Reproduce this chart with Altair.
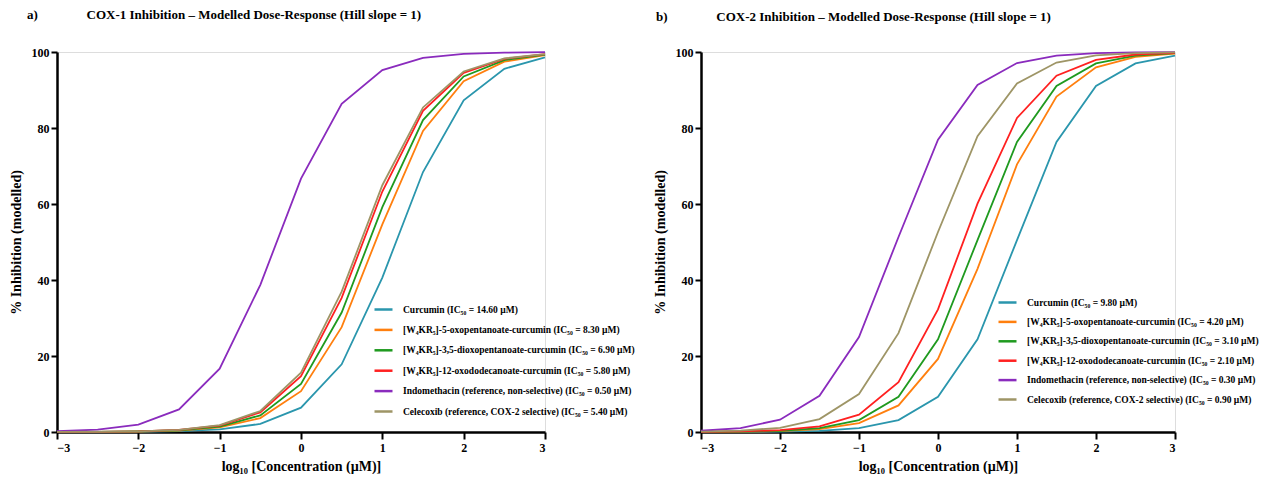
import altair as alt
import pandas as pd

log_conc = [-3, -2.5, -2, -1.5, -1, -0.5, 0, 0.5, 1, 1.5, 2, 2.5, 3]

colors = ["#2a96ad", "#ff7f0e", "#1f9a1f", "#ff2020", "#8a2bbd", "#9e9566"]

cox1_labels = [
    "Curcumin (IC\u2085\u2080 = 14.60 \u00b5M)",
    "[W\u2084KR\u2085]-5-oxopentanoate-curcumin (IC\u2085\u2080 = 8.30 \u00b5M)",
    "[W\u2084KR\u2085]-3,5-dioxopentanoate-curcumin (IC\u2085\u2080 = 6.90 \u00b5M)",
    "[W\u2084KR\u2085]-12-oxododecanoate-curcumin (IC\u2085\u2080 = 5.80 \u00b5M)",
    "Indomethacin (reference, non-selective) (IC\u2085\u2080 = 0.50 \u00b5M)",
    "Celecoxib (reference, COX-2 selective) (IC\u2085\u2080 = 5.40 \u00b5M)",
]
cox2_labels = [
    "Curcumin (IC\u2085\u2080 = 9.80 \u00b5M)",
    "[W\u2084KR\u2085]-5-oxopentanoate-curcumin (IC\u2085\u2080 = 4.20 \u00b5M)",
    "[W\u2084KR\u2085]-3,5-dioxopentanoate-curcumin (IC\u2085\u2080 = 3.10 \u00b5M)",
    "[W\u2084KR\u2085]-12-oxododecanoate-curcumin (IC\u2085\u2080 = 2.10 \u00b5M)",
    "Indomethacin (reference, non-selective) (IC\u2085\u2080 = 0.30 \u00b5M)",
    "Celecoxib (reference, COX-2 selective) (IC\u2085\u2080 = 0.90 \u00b5M)",
]

# COX-1 % inhibition values
cox1_curcumin = [0.007, 0.02, 0.07, 0.22, 0.68, 2.12, 6.41, 17.80, 40.65, 68.41, 87.26, 95.59, 98.56]
cox1_oxo5 = [0.012, 0.04, 0.12, 0.38, 1.19, 3.67, 10.75, 27.59, 54.64, 79.21, 92.34, 97.44, 99.18]
cox1_dioxo = [0.015, 0.05, 0.15, 0.46, 1.43, 4.38, 12.66, 31.43, 59.17, 82.09, 93.55, 97.86, 99.31]
cox1_oxo12 = [0.017, 0.05, 0.17, 0.54, 1.69, 5.17, 14.71, 35.28, 63.29, 84.50, 94.52, 98.20, 99.42]
cox1_indo = [0.20, 0.63, 1.96, 5.95, 16.67, 38.74, 66.67, 86.35, 95.24, 98.44, 99.50, 99.84, 99.95]
cox1_cele = [0.019, 0.06, 0.19, 0.58, 1.82, 5.53, 15.63, 36.93, 64.94, 85.41, 94.88, 98.32, 99.46]

# COX-2 % inhibition values
cox2_curcumin = [0.010, 0.03, 0.10, 0.32, 1.01, 3.13, 9.26, 24.39, 50.51, 76.34, 91.07, 96.99, 99.03]
cox2_oxo5 = [0.024, 0.08, 0.24, 0.75, 2.33, 7.00, 19.23, 42.95, 70.42, 88.27, 95.97, 98.69, 99.58]
cox2_dioxo = [0.032, 0.10, 0.32, 1.01, 3.13, 9.26, 24.39, 50.50, 76.34, 91.07, 96.99, 99.03, 99.69]
cox2_oxo12 = [0.048, 0.15, 0.47, 1.48, 4.55, 13.09, 32.26, 60.09, 82.64, 93.77, 97.94, 99.34, 99.79]
cox2_indo = [0.33, 1.04, 3.23, 9.54, 25.00, 51.31, 76.92, 91.33, 97.09, 99.06, 99.70, 99.91, 99.97]
cox2_cele = [0.11, 0.35, 1.10, 3.39, 10.00, 26.00, 52.63, 77.84, 91.74, 97.23, 99.11, 99.72, 99.91]

cox1_values = [cox1_curcumin, cox1_oxo5, cox1_dioxo, cox1_oxo12, cox1_indo, cox1_cele]
cox2_values = [cox2_curcumin, cox2_oxo5, cox2_dioxo, cox2_oxo12, cox2_indo, cox2_cele]

FONT = "Liberation Serif, Times New Roman, serif"


def make_df(labels, values):
    rows = []
    for i, (lab, vals) in enumerate(zip(labels, values)):
        for xv, yv in zip(log_conc, vals):
            rows.append({"x": xv, "y": yv, "series": lab, "order": i})
    return pd.DataFrame(rows)


def panel(letter, title, labels, values, w, h, lx, ly, rowpad, toff, tdx):
    df = make_df(labels, values)
    return (
        alt.Chart(df)
        .mark_line(strokeWidth=1.8)
        .encode(
            x=alt.X(
                "x:Q",
                scale=alt.Scale(domain=[-3, 3], nice=False, zero=False),
                axis=alt.Axis(
                    title="log\u2081\u2080 [Concentration (\u00b5M)]",
                    values=[-3, -2, -1, 0, 1, 2, 3],
                    format="d",
                    grid=False,
                    domainWidth=2.5,
                    domainColor="black",
                    tickColor="black",
                    tickWidth=2,
                    tickSize=7,
                    labelFont=FONT,
                    labelFontWeight="bold",
                    labelFontSize=12,
                    labelColor="black",
                    labelPadding=3,
                    titleFont=FONT,
                    titleFontWeight="bold",
                    titleFontSize=14,
                    titleColor="black",
                    titlePadding=6,
                ),
            ),
            y=alt.Y(
                "y:Q",
                scale=alt.Scale(domain=[0, 100], nice=False),
                axis=alt.Axis(
                    title="% Inhibition (modelled)",
                    values=[0, 20, 40, 60, 80, 100],
                    grid=False,
                    domainWidth=2.5,
                    domainColor="black",
                    tickColor="black",
                    tickWidth=2,
                    tickSize=6,
                    labelFont=FONT,
                    labelFontWeight="bold",
                    labelFontSize=12,
                    labelColor="black",
                    labelPadding=2,
                    titleFont=FONT,
                    titleFontWeight="bold",
                    titleFontSize=14,
                    titleColor="black",
                    titlePadding=8,
                ),
            ),
            color=alt.Color(
                "series:N",
                scale=alt.Scale(domain=labels, range=colors),
                sort=labels,
                legend=alt.Legend(
                    title=None,
                    orient="none",
                    legendX=lx,
                    legendY=ly,
                    symbolType="stroke",
                    symbolStrokeWidth=2.5,
                    symbolSize=324,
                    labelFont=FONT,
                    labelFontWeight="bold",
                    labelFontSize=9.5,
                    labelColor="black",
                    rowPadding=rowpad,
                    labelOffset=9,
                    labelLimit=400,
                ),
            ),
            order="order:Q",
        )
        .properties(
            width=w,
            height=h,
            title=alt.TitleParams(
                text=letter + "\u00a0" * 15 + title,
                anchor="start",
                frame="group",
                dx=tdx,
                offset=toff,
                font=FONT,
                fontWeight="bold",
                fontSize=13,
                color="black",
            ),
        )
    )


a = panel("a)", "COX-1 Inhibition \u2013 Modelled Dose-Response (Hill slope = 1)",
          cox1_labels, cox1_values, 488, 380, 316, 247, 4.4, 24, -30)
b = panel("b)", "COX-2 Inhibition \u2013 Modelled Dose-Response (Hill slope = 1)",
          cox2_labels, cox2_values, 474, 380, 296, 240, 3.4, 22, -45)

chart = (
    alt.hconcat(a, b, spacing=16, padding=0)
    .resolve_scale(color="independent")
    .resolve_legend(color="independent")
    .configure_view(stroke=None)
    .configure(background="white")
)

chart.save("out.html", embed_options={"renderer": "svg", "actions": False})
